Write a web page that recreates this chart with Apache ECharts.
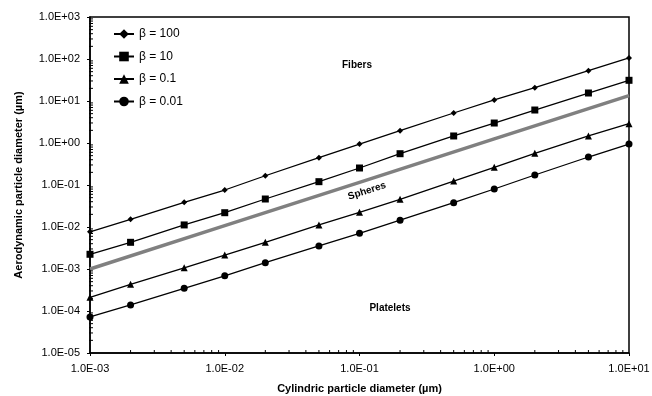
<!DOCTYPE html>
<html>
<head>
<meta charset="utf-8">
<script src="https://cdn.jsdelivr.net/npm/echarts@6/dist/echarts.min.js"></script>
<style>
html, body { margin: 0; padding: 0; background: #fff; }
#chart { width: 652px; height: 396px; }
</style>
</head>
<body>
<div id="chart"></div>
<script>
// cylinder diameter (µm)
var diam = [0.001, 0.002, 0.005, 0.01, 0.02, 0.05, 0.1, 0.2, 0.5, 1, 2, 5, 10];
// aerodynamic diameter (µm) per aspect ratio
var beta100 = [0.0077, 0.0152, 0.0387, 0.076, 0.166, 0.447, 0.946, 1.96, 5.18, 10.6, 20.7, 52.6, 106];
var beta10 = [0.00224, 0.00432, 0.0112, 0.0219, 0.0464, 0.12, 0.254, 0.556, 1.47, 2.99, 6.1, 15.5, 31.1];
var beta01 = [0.000212, 0.000432, 0.00107, 0.00215, 0.00432, 0.0112, 0.0224, 0.0457, 0.124, 0.264, 0.569, 1.47, 2.88];
var beta001 = [0.000072, 0.000139, 0.000347, 0.00069, 0.00141, 0.00353, 0.00708, 0.0145, 0.0379, 0.0803, 0.173, 0.464, 0.946];
var sphereX = [0.001, 0.01, 0.1, 1, 10];
var sphereY = [0.001, 0.0108, 0.116, 1.25, 13.4];
var legendNames = ['β = 100', 'β = 10', 'β = 0.1', 'β = 0.01'];

function pairs(xs, ys) {
    var res = [];
    for (var i = 0; i < xs.length; i++) res.push([xs[i], ys[i]]);
    return res;
}
function sci(v) {
    var e = Math.round(Math.log10(v));
    var m = v / Math.pow(10, e);
    var s = e < 0 ? '-' : '+';
    var a = Math.abs(e);
    return m.toFixed(1) + 'E' + s + (a < 10 ? '0' + a : a);
}

var font = '"Liberation Sans", Arial, sans-serif';
var chart = echarts.init(document.getElementById('chart'));

function betaSeries(name, data, symbol, size) {
    return {
        name: name,
        type: 'line',
        data: pairs(diam, data),
        symbol: symbol,
        symbolSize: size,
        showAllSymbol: true,
        clip: false,
        itemStyle: { color: '#000' },
        lineStyle: { color: '#000', width: 1.3 },
        z: 3
    };
}

var option = {
    animation: false,
    textStyle: { fontFamily: font },
    grid: {
        left: 90, top: 17, right: 23, bottom: 43,
        outerBoundsMode: 'none',
        show: true, borderColor: '#000', borderWidth: 1.5
    },
    legend: {
        data: legendNames,
        orient: 'vertical',
        left: 108, top: 23,
        itemWidth: 20, itemHeight: 12, itemGap: 10.5,
        textStyle: { fontFamily: font, fontSize: 12, color: '#000' },
        selectedMode: false
    },
    xAxis: {
        type: 'log', logBase: 10, min: 0.001, max: 10,
        name: 'Cylindric particle diameter (µm)',
        nameLocation: 'middle', nameGap: 30,
        nameTextStyle: { fontFamily: font, fontSize: 11, fontWeight: 'bold', color: '#000' },
        axisLine: { lineStyle: { color: '#000', width: 1.5 } },
        axisTick: { show: true, length: 3, lineStyle: { color: '#000' } },
        axisLabel: { fontFamily: font, fontSize: 11, color: '#000', margin: 10, formatter: sci },
        splitLine: { show: false }
    },
    yAxis: {
        type: 'log', logBase: 10, min: 0.00001, max: 1000,
        name: 'Aerodynamic particle diameter (µm)',
        nameLocation: 'middle', nameGap: 66,
        nameTextStyle: { fontFamily: font, fontSize: 11, fontWeight: 'bold', color: '#000' },
        axisLine: { lineStyle: { color: '#000', width: 1.5 } },
        axisTick: { show: true, length: 3, lineStyle: { color: '#000' } },
        axisLabel: { fontFamily: font, fontSize: 11, color: '#000', margin: 10, formatter: sci },
        splitLine: { show: false }
    },
    series: [
        betaSeries('β = 100', beta100, 'diamond', 6),
        betaSeries('β = 10', beta10, 'rect', 7),
        betaSeries('β = 0.1', beta01, 'triangle', 7),
        betaSeries('β = 0.01', beta001, 'circle', 7),
        {
            name: 'Spheres',
            type: 'line',
            data: pairs(sphereX, sphereY),
            symbol: 'none',
            clip: false,
            lineStyle: { color: '#808080', width: 3.5 },
            z: 2
        }
    ]
};
chart.setOption(option);

// log minor ticks (2..9 in each decade) and region labels
var g = [];
for (var d = -3; d < 1; d++) {
    for (var k = 2; k < 10; k++) {
        var p = chart.convertToPixel({ gridIndex: 0 }, [k * Math.pow(10, d), 0.00001]);
        g.push({ type: 'line', shape: { x1: p[0], y1: p[1], x2: p[0], y2: p[1] - 3 },
            style: { stroke: '#000', lineWidth: 1 }, z: 10 });
    }
}
for (var d2 = -5; d2 < 3; d2++) {
    for (var k2 = 2; k2 < 10; k2++) {
        var q = chart.convertToPixel({ gridIndex: 0 }, [0.001, k2 * Math.pow(10, d2)]);
        g.push({ type: 'line', shape: { x1: q[0] - 1, y1: q[1], x2: q[0] + 3, y2: q[1] },
            style: { stroke: '#000', lineWidth: 1 }, z: 10 });
    }
}
var labelFont = 'bold 10px "Liberation Sans", Arial, sans-serif';
g.push({ type: 'text', x: 357, y: 65, style: { text: 'Fibers', font: labelFont, fill: '#000', align: 'center', verticalAlign: 'middle' } });
g.push({ type: 'text', x: 390, y: 308, style: { text: 'Platelets', font: labelFont, fill: '#000', align: 'center', verticalAlign: 'middle' } });
g.push({ type: 'text', x: 367, y: 191, rotation: 0.31, style: { text: 'Spheres', font: labelFont, fill: '#000', align: 'center', verticalAlign: 'middle' } });
chart.setOption({ graphic: g });
</script>
</body>
</html>
